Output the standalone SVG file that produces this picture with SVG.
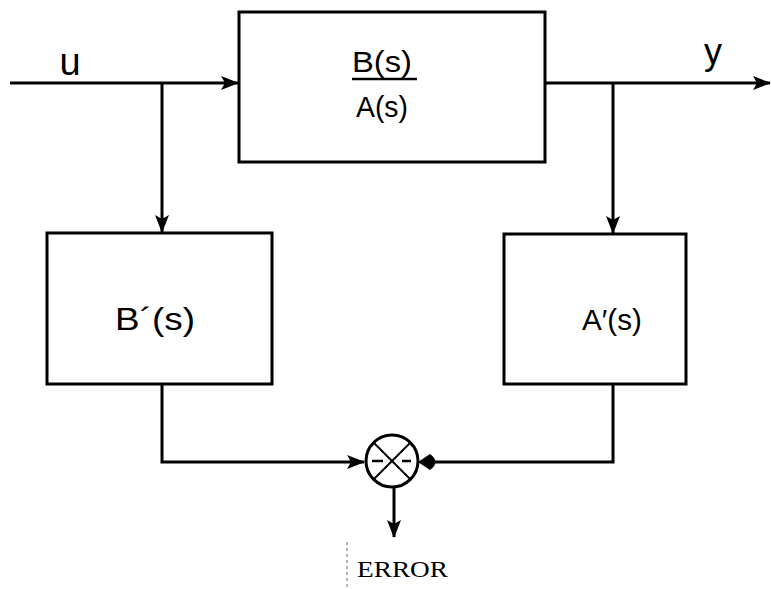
<svg xmlns="http://www.w3.org/2000/svg" width="771" height="589" viewBox="0 0 771 589">
<style>
.box{fill:#fff;stroke:#000;stroke-width:3}
.ln{fill:none;stroke:#000;stroke-width:3}
.lbl{font-family:"Liberation Sans",Arial,sans-serif;fill:#000}
</style>
<defs>
<marker id="ah" markerWidth="18" markerHeight="14" refX="17" refY="7" orient="auto" markerUnits="userSpaceOnUse">
<path d="M0,0 L18,7 L0,14 L4,7 Z" fill="#000"/>
</marker>
</defs>
<g id="connectors">
<line class="ln" x1="10" y1="83" x2="238" y2="83" marker-end="url(#ah)"/>
<line class="ln" x1="162" y1="83" x2="162" y2="232" marker-end="url(#ah)"/>
<line class="ln" x1="545" y1="83" x2="770" y2="83" marker-end="url(#ah)"/>
<line class="ln" x1="613" y1="83" x2="613" y2="233" marker-end="url(#ah)"/>
<polyline class="ln" points="162,384 162,462 364,462" marker-end="url(#ah)"/>
<polyline class="ln" points="613,384 613,462 434,462"/>
<path d="M418,462 L430,454 Q441,462 430,470 Z" fill="#000"/>
<line class="ln" x1="394" y1="488" x2="394" y2="537" marker-end="url(#ah)"/>
<line x1="347" y1="542" x2="347" y2="589" stroke="#666" stroke-width="1" stroke-dasharray="3,3"/>
</g>
<g id="plant">
<rect class="box" x="239" y="12" width="306" height="150"/>
<text class="lbl" x="382" y="72" font-size="29" text-anchor="middle" textLength="60" lengthAdjust="spacingAndGlyphs">B(s)</text>
<line x1="352" y1="79" x2="417" y2="79" stroke="#000" stroke-width="2.5"/>
<text class="lbl" x="382" y="117" font-size="29" text-anchor="middle" textLength="52" lengthAdjust="spacingAndGlyphs">A(s)</text>
</g>
<g id="bprime">
<rect class="box" x="47" y="233" width="225" height="151"/>
<text class="lbl" x="155" y="330" font-size="32" text-anchor="middle" textLength="80" lengthAdjust="spacingAndGlyphs">B´(s)</text>
</g>
<g id="aprime">
<rect class="box" x="504" y="234" width="182" height="150"/>
<text class="lbl" x="612" y="330" font-size="29" text-anchor="middle" textLength="60" lengthAdjust="spacingAndGlyphs">A′(s)</text>
</g>
<g id="sum">
<circle cx="392" cy="461" r="26" fill="#fff" stroke="#000" stroke-width="3"/>
<line x1="374" y1="443" x2="410" y2="479" stroke="#000" stroke-width="2"/>
<line x1="410" y1="443" x2="374" y2="479" stroke="#000" stroke-width="2"/>
<line x1="372" y1="461" x2="383" y2="461" stroke="#000" stroke-width="2.5"/>
<line x1="402" y1="461" x2="411" y2="461" stroke="#000" stroke-width="2.5"/>
</g>
<g id="labels">
<text class="lbl" x="70" y="75" font-size="38" text-anchor="middle">u</text>
<text class="lbl" x="713" y="64" font-size="36" text-anchor="middle">y</text>
<text x="357" y="577" font-family="Liberation Serif,Times New Roman,serif" font-size="23" textLength="91" lengthAdjust="spacingAndGlyphs" fill="#000">ERROR</text>
</g>
</svg>
